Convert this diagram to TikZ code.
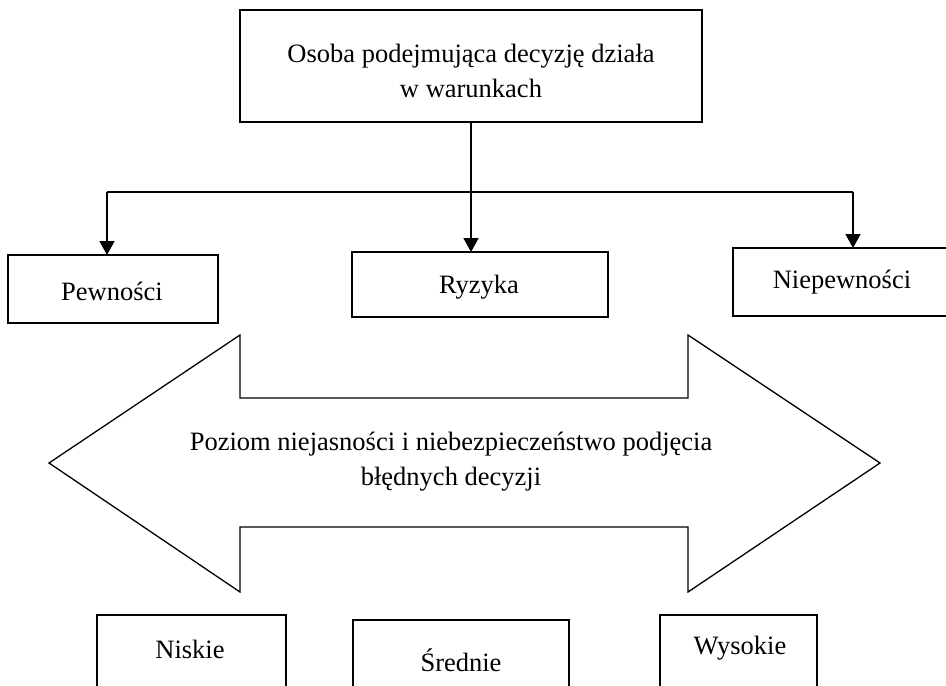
\documentclass[tikz,border=0pt]{standalone}
\usepackage{fontspec}
\setmainfont{Liberation Serif}
\usetikzlibrary{arrows.meta}
\begin{document}
\begin{tikzpicture}[x=1pt,y=-1pt,
  box/.style={draw,line width=1.3pt,fill=white},
  lbl/.style={font=\fontsize{26.5}{35}\selectfont,align=center,inner sep=0pt},
  conn/.style={line width=1.6pt},
  arr/.style={conn,-{Triangle[length=14pt,width=15pt]}}]
\useasboundingbox (0,0) rectangle (946,686);
% top box
\draw[box] (240,10) rectangle (702,122);
\node[lbl] (top) at (471,71) {Osoba podejmująca decyzję działa\\w warunkach};
\coordinate (topb) at (471,122);
% three condition boxes
\draw[box] (8,255) rectangle (218,323);
\node[lbl] (pew) at (112,291) {Pewności};
\draw[box] (352,252) rectangle (608,317);
\node[lbl] (ryz) at (479,287) {Ryzyka};
\draw[box] (733,248) rectangle (950,316);
\node[lbl] (nie) at (842,282) {Niepewności};
% connectors
\coordinate (jl) at (107,192);
\coordinate (jm) at (471,192);
\coordinate (jr) at (853,192);
\coordinate (tl) at (107,255);
\coordinate (tm) at (471,252);
\coordinate (tr) at (853,248);
\draw[conn] (jl) -- (jr);
\draw[arr] (topb) -- (tm);
\draw[arr] (jl) -- (tl);
\draw[arr] (jr) -- (tr);
% double arrow
\draw[line width=1.3pt,line join=miter] (49,463) -- (240,335) -- (240,398) -- (688,398) -- (688,335)
  -- (880,463) -- (688,592) -- (688,527) -- (240,527) -- (240,592) -- cycle;
\node[lbl] (lvl) at (451,462) {Poziom niejasności i niebezpieczeństwo podjęcia\\błędnych decyzji};
% bottom boxes, open at the lower edge
\draw[box] (97,700) -- (97,615) -- (286,615) -- (286,700);
\node[lbl] (nis) at (190,649) {Niskie};
\draw[box] (353,700) -- (353,620) -- (569,620) -- (569,700);
\node[lbl] (sre) at (461,660) {Średnie};
\draw[box] (660,700) -- (660,615) -- (817,615) -- (817,700);
\node[lbl] (wys) at (740,648) {Wysokie};
\end{tikzpicture}
\end{document}
